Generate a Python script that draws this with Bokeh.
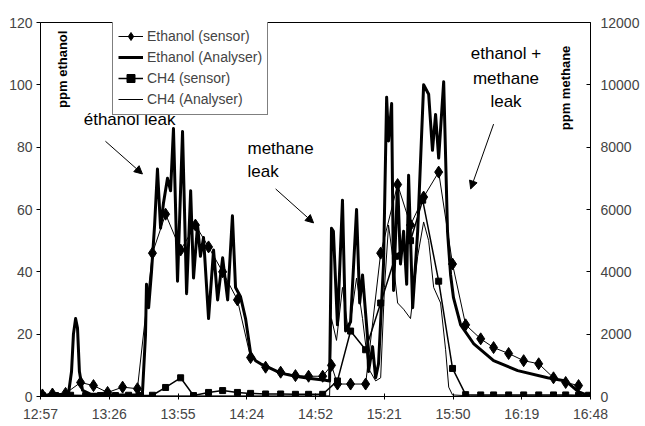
import numpy as np
from bokeh.plotting import figure
from bokeh.models import (Range1d, LinearAxis, FixedTicker, Legend, LegendItem,
                          Label, Arrow, NormalHead)
from bokeh.embed import file_html
from bokeh.resources import INLINE

# time origin of the axis: 12:57:36 (0.54 day); times below are elapsed minutes
START_MIN = 777.6

x_tick_labels = ["12:57", "13:26", "13:55", "14:24", "14:52",
                 "15:21", "15:50", "16:19", "16:48"]

# Ethanol (Analyser), ppm ethanol (left axis)
eth_an_t = [0, 6.3, 11.7, 13.0, 13.8, 14.7, 15.5, 16.3, 17.6, 20.9, 27.2, 33.5, 39.8,
            42.7, 44.0, 44.4, 45.3, 46.5, 47.8, 49.0, 50.3, 51.5, 53.2, 54.5, 55.7,
            57.4, 59.5, 61.2, 62.9, 64.1, 65.8, 67.0, 68.3, 70.4, 72.5, 74.2, 76.3,
            78.4, 80.4, 81.7, 83.8, 85.9, 88.0, 90.1, 92.2, 96.4, 100.6, 106.8, 113.1,
            119.4, 121.1, 121.9, 122.7, 124.4, 126.5, 127.8, 129.9, 132.4, 133.7,
            134.9, 137.0, 137.4, 139.1, 140.4, 141.6, 143.7, 145.0, 145.8, 147.1,
            147.9, 149.6, 150.8, 152.1, 153.4, 154.2, 155.9, 158.0, 160.5, 162.6,
            164.2, 165.5, 166.8, 168.9, 170.5, 171.8, 173.0, 176.0, 181.4, 189.8,
            199.9, 212.4, 220.0, 225.4, 228.8]
eth_an_ppm = [0.5, 0.5, 0.8, 8, 20, 25, 22, 8, 2, 0.8, 0.6, 0.5, 0.6,
              1, 20, 36, 28.5, 40, 55, 73, 54, 62, 70, 66, 86,
              37, 85, 33, 66, 38, 55, 45, 51, 25, 47, 31, 44.5,
              31, 58, 35, 32, 25, 14, 11.5, 10.5, 9, 7.5, 6.5, 5.8,
              5.2, 5, 54, 53, 23, 63, 21, 24, 60, 30,
              39, 19, 8, 16, 6, 10.5, 42.5, 96, 82, 94,
              34, 69, 42.5, 53, 36, 71, 28.5, 53, 100, 97,
              79, 90.5, 76.5, 101, 53, 39, 31.7, 23, 17, 11.5,
              8.3, 6, 5, 1.5, 0.5]

# Ethanol (sensor), ppm ethanol (left axis)
eth_se_t = [0.8, 5.0, 10.5, 16.8, 22.2, 28.1, 34.4, 40.6, 46.9, 52.4, 58.7, 64.9,
            70.4, 76.3, 82.5, 88.0, 94.3, 100.6, 106.8, 112.3, 118.2, 121.9, 124.4,
            129.9, 136.2, 142.5, 149.6, 155.0, 160.5, 166.8, 172.6, 178.1, 184.4,
            189.8, 196.1, 202.4, 208.7, 214.9, 220.0, 225.4]
eth_se_ppm = [0.5, 0.8, 1, 4.5, 3.5, 1.3, 3, 2.5, 46, 58.5, 47, 55,
              48, 40, 31, 12.5, 9.4, 7.8, 6.7, 6.5, 6.5, 10, 4,
              4, 4, 46, 68, 55, 64, 72, 42.5, 23, 18.5,
              15.7, 13.8, 11.5, 10.5, 6, 4.5, 3.5]

# CH4 (sensor), ppm methane (right axis)
ch4_se_t = [0.8, 6.3, 12.6, 18.9, 25.1, 31.4, 36.9, 41.9, 46.9, 52.4, 58.7, 64.1,
            70.4, 76.3, 82.5, 88.0, 94.3, 100.6, 106.8, 112.3, 118.2, 124.4, 129.9,
            136.2, 142.5, 148.7, 155.0, 160.1, 166.8, 172.6, 178.1, 184.4, 189.8,
            196.1, 202.4, 208.7, 214.9, 220.0, 225.4, 229.6]
ch4_se_ppm = [30, 30, 40, 30, 30, 30, 40, 30, 40, 290, 600, 30,
              130, 190, 130, 100, 80, 80, 70, 70, 70, 500, 2100,
              1500, 3000, 4500, 5000, 6300, 3700, 900, 60, 50, 50,
              50, 50, 50, 50, 50, 40, 40]

# CH4 (Analyser), ppm methane (right axis)
ch4_an_t = [0, 121.1, 121.9, 124.0, 126.5, 129.1, 132.4, 134.9, 137.4, 140.4, 142.5,
            144.1, 145.8, 147.5, 149.6, 152.1, 155.0, 158.0, 160.5, 162.6, 164.7,
            167.6, 169.7, 171.0, 172.6, 180.2, 230.4]
ch4_an_ppm = [20, 20, 2500, 1800, 3500, 2000, 3800, 2500, 900, 500, 600,
              3500, 5500, 4500, 3000, 2800, 2500, 4500, 5600, 5000, 3500,
              3000, 1500, 300, 50, 20, 20]


def X(t):
    """elapsed minutes -> hundredths of a day"""
    return (START_MIN + np.asarray(t, dtype=float)) / 14.4


FONT = "Liberation Sans"

p = figure(width=645, height=426, output_backend="svg", toolbar_location=None,
           x_range=Range1d(54, 70), y_range=Range1d(0, 120),
           min_border_left=40, min_border_right=55, min_border_top=22,
           min_border_bottom=30)
p.xgrid.visible = False
p.ygrid.visible = False
p.outline_line_color = "black"
p.outline_line_width = 1
p.background_fill_color = "white"
p.border_fill_color = "white"

p.extra_y_ranges = {"ch4": Range1d(0, 12000)}

# x axis
xa = p.xaxis[0]
xa.ticker = FixedTicker(ticks=list(range(54, 71, 2)))
xa.major_label_overrides = {54 + 2 * i: lab for i, lab in enumerate(x_tick_labels)}
xa.minor_tick_line_color = None
xa.major_tick_in = 3
xa.major_tick_out = 3
xa.major_label_standoff = 6
xa.major_label_text_font = FONT
xa.major_label_text_font_size = "14px"
xa.axis_line_color = "black"

# left axis
ya = p.yaxis[0]
ya.ticker = FixedTicker(ticks=list(range(0, 121, 20)))
ya.minor_tick_line_color = None
ya.major_tick_in = 0
ya.major_tick_out = 4
ya.major_label_standoff = 4
ya.major_label_text_font = FONT
ya.major_label_text_font_size = "14px"

# right axis
ra = LinearAxis(y_range_name="ch4", ticker=FixedTicker(ticks=list(range(0, 12001, 2000))))
ra.minor_tick_line_color = None
ra.major_tick_in = 4
ra.major_tick_out = 0
ra.major_label_standoff = 10
ra.major_label_text_font = FONT
ra.major_label_text_font_size = "14px"
p.add_layout(ra, "right")

# series
r_ea = p.line(X(eth_an_t), eth_an_ppm, line_color="black", line_width=3, line_join="round")
r_ca = p.line(X(ch4_an_t), ch4_an_ppm, line_color="black", line_width=1,
              y_range_name="ch4")
r_es_l = p.line(X(eth_se_t), eth_se_ppm, line_color="black", line_width=1)
r_es_p = p.scatter(X(eth_se_t), eth_se_ppm, marker="diamond", size=12,
                   fill_color="black", line_color="black")
r_cs_l = p.line(X(ch4_se_t), ch4_se_ppm, line_color="black", line_width=1.5,
                y_range_name="ch4")
r_cs_p = p.scatter(X(ch4_se_t), ch4_se_ppm, marker="square", size=6,
                   fill_color="black", line_color="black", y_range_name="ch4")

legend = Legend(items=[
    LegendItem(label="Ethanol (sensor)", renderers=[r_es_l, r_es_p]),
    LegendItem(label="Ethanol (Analyser)", renderers=[r_ea]),
    LegendItem(label="CH4 (sensor)", renderers=[r_cs_l, r_cs_p]),
    LegendItem(label="CH4 (Analyser)", renderers=[r_ca]),
], location=(72, 281))
legend.border_line_color = "black"
legend.border_line_width = 1
legend.background_fill_color = "white"
legend.background_fill_alpha = 1
legend.label_text_font = FONT
legend.label_text_font_size = "14px"
legend.glyph_width = 25
legend.glyph_height = 20
legend.label_height = 20
legend.label_standoff = 4
legend.padding = 5
legend.spacing = 1
legend.margin = 0
p.add_layout(legend, "center")

# annotations
def lab(t, y, text, size="17px", align="center", bold=False, angle=0.0):
    p.add_layout(Label(x=float(X(t)), y=y, text=text, text_font=FONT,
                       text_font_size=size, text_align=align, text_baseline="middle",
                       text_font_style="bold" if bold else "normal", angle=angle,
                       text_color="black"))

lab(9.2, 105, "ppm ethanol", size="13px", bold=True, angle=np.pi / 2)
lab(220.0, 99, "ppm methane", size="13px", bold=True, angle=np.pi / 2)
lab(37.3, 89, "éthanol leak")
lab(86.7, 79.7, "methane", align="left")
lab(86.7, 72.3, "leak", align="left")
lab(195.0, 110.1, "ethanol +")
lab(195.0, 102.1, "methane")
lab(195.0, 94.7, "leak")

for (t0, y0, t1, y1) in [(27.2, 81.9, 42.7, 71.4), (98.5, 66.6, 114.4, 55.7),
                         (189.8, 87.4, 180.2, 66.6)]:
    p.add_layout(Arrow(end=NormalHead(size=8, fill_color="black", line_color="black"),
                       x_start=float(X(t0)), y_start=y0, x_end=float(X(t1)), y_end=y1,
                       line_color="black", line_width=1))

open("out.html", "w").write(file_html(p, INLINE))
